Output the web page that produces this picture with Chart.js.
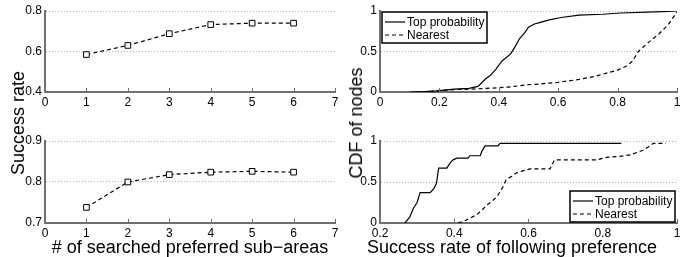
<!DOCTYPE html>
<html>
<head>
<meta charset="utf-8">
<script src="https://cdn.jsdelivr.net/npm/chart.js@4/dist/chart.umd.min.js"></script>
<style>
  body { margin: 0; background: #fff; }
  #wrap { position: relative; width: 684px; height: 257px; overflow: hidden; font-family: "Liberation Sans", Arial, sans-serif; }
  canvas { position: absolute; }
  .title { position: absolute; font-size: 18px; line-height: 18px; white-space: nowrap; color: #000; }
  .ytitle { transform: translate(-50%, -50%) rotate(-90deg); }
  .xtitle { transform: translate(-50%, -50%); }
</style>
</head>
<body>
<div id="wrap">
  <canvas id="c-tl" style="left:0;top:0" width="342" height="110"></canvas>
  <canvas id="c-bl" style="left:0;top:128px" width="342" height="113"></canvas>
  <canvas id="c-tr" style="left:342px;top:0" width="342" height="110"></canvas>
  <canvas id="c-br" style="left:342px;top:128px" width="342" height="113"></canvas>
  <div class="title ytitle" style="left:18px;top:123px">Success rate</div>
  <div class="title ytitle" style="left:356px;top:123px">CDF of nodes</div>
  <div class="title xtitle" style="left:190px;top:247px"># of searched preferred sub−areas</div>
  <div class="title xtitle" style="left:512px;top:247px">Success rate of following preference</div>
</div>
<script>
// datos
const subAreas = [1, 2, 3, 4, 5, 6];
const rateTop = [0.585, 0.63, 0.688, 0.733, 0.74, 0.74];
const rateBottom = [0.738, 0.80, 0.818, 0.824, 0.826, 0.824];

const seriesNames = ["Top probability", "Nearest"];

// CDF arriba a la derecha
const cdfTopProbX = [0.1, 0.15, 0.19, 0.25, 0.3, 0.33, 0.355, 0.37, 0.39, 0.41, 0.44, 0.455, 0.47, 0.485, 0.5, 0.52, 0.54, 0.57, 0.61, 0.67, 0.75, 0.81, 0.9, 0.97, 1.0];
const cdfTopProbY = [0, 0.005, 0.015, 0.035, 0.045, 0.07, 0.16, 0.2, 0.28, 0.38, 0.47, 0.56, 0.66, 0.72, 0.8, 0.84, 0.86, 0.89, 0.92, 0.95, 0.96, 0.975, 0.985, 0.995, 1.0];
const cdfNearestX = [0.12, 0.18, 0.25, 0.3, 0.36, 0.43, 0.5, 0.54, 0.6, 0.67, 0.72, 0.76, 0.8, 0.83, 0.85, 0.87, 0.9, 0.94, 0.97, 1.0];
const cdfNearestY = [0, 0.01, 0.03, 0.035, 0.045, 0.06, 0.09, 0.1, 0.12, 0.155, 0.19, 0.23, 0.27, 0.32, 0.38, 0.5, 0.6, 0.72, 0.83, 0.99];

// CDF abajo a la derecha
const cdf2TopProbX = [0.267, 0.28, 0.29, 0.30, 0.308, 0.335, 0.345, 0.352, 0.358, 0.38, 0.39, 0.397, 0.407, 0.437, 0.442, 0.47, 0.475, 0.483, 0.518, 0.523, 0.85];
const cdf2TopProbY = [0, 0.07, 0.18, 0.25, 0.37, 0.37, 0.42, 0.48, 0.67, 0.67, 0.74, 0.77, 0.79, 0.79, 0.82, 0.82, 0.88, 0.94, 0.94, 0.97, 0.97];
const cdf2NearestX = [0.41, 0.43, 0.443, 0.46, 0.475, 0.488, 0.50, 0.515, 0.53, 0.54, 0.555, 0.567, 0.58, 0.604, 0.658, 0.67, 0.785, 0.81, 0.84, 0.874, 0.91, 0.936, 0.97];
const cdf2NearestY = [0, 0.03, 0.06, 0.1, 0.16, 0.22, 0.26, 0.32, 0.43, 0.53, 0.57, 0.61, 0.63, 0.66, 0.66, 0.77, 0.77, 0.8, 0.81, 0.83, 0.89, 0.97, 0.97];

// etiquetas de los ejes
const ticksSubAreas = [0, 1, 2, 3, 4, 5, 6, 7];
const ticksRateTop = [0.4, 0.6, 0.8];
const ticksRateBottom = [0.7, 0.8, 0.9];
const ticksCdf = [0, 0.5, 1];
const ticksSuccessTop = [0, 0.2, 0.4, 0.6, 0.8, 1];
const ticksSuccessBottom = [0.2, 0.4, 0.6, 0.8, 1];

const FONT = "'Liberation Sans', Arial, sans-serif";
const AXIS_GRAY = "#707070";

function toPoints(xs, ys) {
  return xs.map((x, i) => ({ x: x, y: ys[i] }));
}

// ticks hacia dentro y leyenda con caja, estilo matlab
const matlabLook = {
  id: "matlabLook",
  afterDraw(chart, args, opts) {
    const ctx = chart.ctx;
    const area = chart.chartArea;
    const xs = chart.scales.x;
    ctx.save();
    ctx.strokeStyle = AXIS_GRAY;
    ctx.lineWidth = 1;
    xs.ticks.forEach(t => {
      const px = Math.round(xs.getPixelForValue(t.value)) + 0.5;
      ctx.beginPath();
      ctx.moveTo(px, area.bottom);
      ctx.lineTo(px, area.bottom - 4);
      ctx.stroke();
    });

    if (opts.legend) {
      ctx.font = "12px " + FONT;
      const sets = chart.data.datasets;
      const textW = Math.max(...sets.map(d => ctx.measureText(d.label).width));
      const w = Math.round(3 + 20 + 2 + textW + 3);
      const h = 31;
      let x0, y0;
      if (opts.legend === "topleft") {
        x0 = area.left + 2;
        y0 = area.top + 1;
      } else {
        x0 = area.right - w - 2;
        y0 = area.bottom - h - 1;
      }
      ctx.fillStyle = "#fff";
      ctx.fillRect(x0, y0, w, h);
      ctx.strokeStyle = "#000";
      ctx.lineWidth = 1.5;
      ctx.strokeRect(x0, y0, w, h);
      sets.forEach((d, i) => {
        const yy = y0 + 10 + i * 13;
        ctx.beginPath();
        ctx.setLineDash(d.borderDash || []);
        ctx.lineWidth = 1.2;
        ctx.moveTo(x0 + 3, yy);
        ctx.lineTo(x0 + 23, yy);
        ctx.stroke();
        ctx.setLineDash([]);
        ctx.fillStyle = "#000";
        ctx.textBaseline = "middle";
        ctx.fillText(d.label, x0 + 25, yy + 1);
      });
    }
    ctx.restore();
  }
};

function scaleOpts(tickList, fitSize, isX) {
  return {
    type: "linear",
    min: tickList[0],
    max: tickList[tickList.length - 1],
    afterBuildTicks: s => { s.ticks = tickList.map(v => ({ value: v })); },
    afterFit: s => {
      if (isX) s.height = fitSize; else s.width = fitSize;
    },
    ticks: {
      color: "#000",
      font: { family: FONT, size: 12 },
      padding: isX ? 3 : 3,
      maxRotation: 0,
      autoSkip: false,
      callback: v => String(+v.toFixed(2))
    },
    grid: isX ? { display: false, drawTicks: false } : {
      drawTicks: false,
      color: c => (c.index === 0 ? "rgba(0,0,0,0)" : "#b4b4b4"),
      lineWidth: 1
    },
    border: { color: AXIS_GRAY, width: 2, dash: isX ? [] : [1, 2] }
  };
}

function makeChart(id, datasets, xTicks, yTicks, yWidth, padTop, legendPos) {
  const canvas = document.getElementById(id);
  return new Chart(canvas, {
    type: "line",
    data: { datasets: datasets },
    options: {
      responsive: false,
      animation: false,
      layout: { padding: { left: 0, right: 7, top: padTop, bottom: 0 } },
      scales: {
        x: scaleOpts(xTicks, 18, true),
        y: scaleOpts(yTicks, yWidth, false)
      },
      plugins: {
        legend: { display: false },
        tooltip: { enabled: false },
        matlabLook: { legend: legendPos }
      }
    },
    plugins: [matlabLook]
  });
}

function markerSet(values) {
  return {
    label: "rate",
    data: toPoints(subAreas, values),
    borderColor: "#000",
    borderWidth: 1.2,
    borderDash: [4, 3],
    pointStyle: "rect",
    pointRadius: 4,
    pointBackgroundColor: "#fff",
    pointBorderColor: "#000",
    pointBorderWidth: 1,
    tension: 0
  };
}

function cdfSet(name, xs, ys, dashed) {
  return {
    label: name,
    data: toPoints(xs, ys),
    borderColor: "#000",
    borderWidth: 1.2,
    borderDash: dashed ? [4, 3] : [],
    pointRadius: 0,
    tension: 0
  };
}

makeChart("c-tl", [markerSet(rateTop)], ticksSubAreas, ticksRateTop, 45, 11, null);
makeChart("c-bl", [markerSet(rateBottom)], ticksSubAreas, ticksRateBottom, 45, 13, null);
makeChart("c-tr", [
  cdfSet(seriesNames[0], cdfTopProbX, cdfTopProbY, false),
  cdfSet(seriesNames[1], cdfNearestX, cdfNearestY, true)
], ticksSuccessTop, ticksCdf, 38, 11, "topleft");
makeChart("c-br", [
  cdfSet(seriesNames[0], cdf2TopProbX, cdf2TopProbY, false),
  cdfSet(seriesNames[1], cdf2NearestX, cdf2NearestY, true)
], ticksSuccessBottom, ticksCdf, 38, 13, "bottomright");
</script>
</body>
</html>
